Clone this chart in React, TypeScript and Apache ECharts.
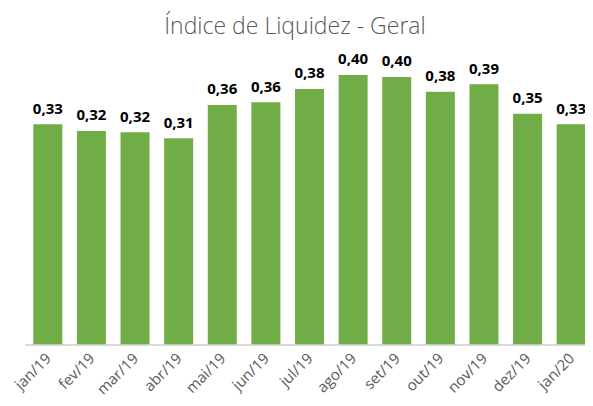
import React, { useEffect, useRef } from "react";
import * as echarts from "echarts";

const categories = ["jan/19", "fev/19", "mar/19", "abr/19", "mai/19", "jun/19", "jul/19", "ago/19", "set/19", "out/19", "nov/19", "dez/19", "jan/20"];
const values = [0.330, 0.320, 0.318, 0.309, 0.359, 0.363, 0.383, 0.404, 0.401, 0.379, 0.390, 0.346, 0.330];
const title = "Índice de Liquidez - Geral";

export default function App() {
  const ref = useRef<HTMLDivElement>(null);
  useEffect(() => {
    const chart = echarts.init(ref.current!, null, { renderer: "svg" });
    chart.setOption({
      animation: false,
      title: {
        text: title,
        left: 290,
        textAlign: "center",
        top: 8,
        textStyle: { fontFamily: "Open Sans", fontSize: 23, fontWeight: 300, color: "#595959" },
      },
      grid: { left: 26, right: -6, top: 44.3, bottom: 406 - 344.3, containLabel: false },
      xAxis: {
        type: "category",
        data: categories,
        axisLine: { lineStyle: { color: "#d9d9d9", width: 2 } },
        axisTick: { show: false },
        axisLabel: { rotate: 45, color: "#595959", fontFamily: "Open Sans", fontSize: 15, margin: 11, interval: 0 },
      },
      yAxis: {
        type: "value",
        min: 0,
        max: 0.45,
        show: false,
        splitLine: { show: false },
      },
      series: [
        {
          type: "bar",
          data: values,
          barWidth: 29,
          itemStyle: { color: "#70AD47" },
          label: {
            show: true,
            position: "top",
            distance: 9,
            fontFamily: "Open Sans",
            fontWeight: "bold",
            fontSize: 15,
            color: "#000",
            formatter: (p: any) => p.value.toFixed(2).replace(".", ","),
          },
        },
      ],
    });
    return () => chart.dispose();
  }, []);
  return <div ref={ref} style={{ width: 593, height: 406, margin: -8 }} />;
}
